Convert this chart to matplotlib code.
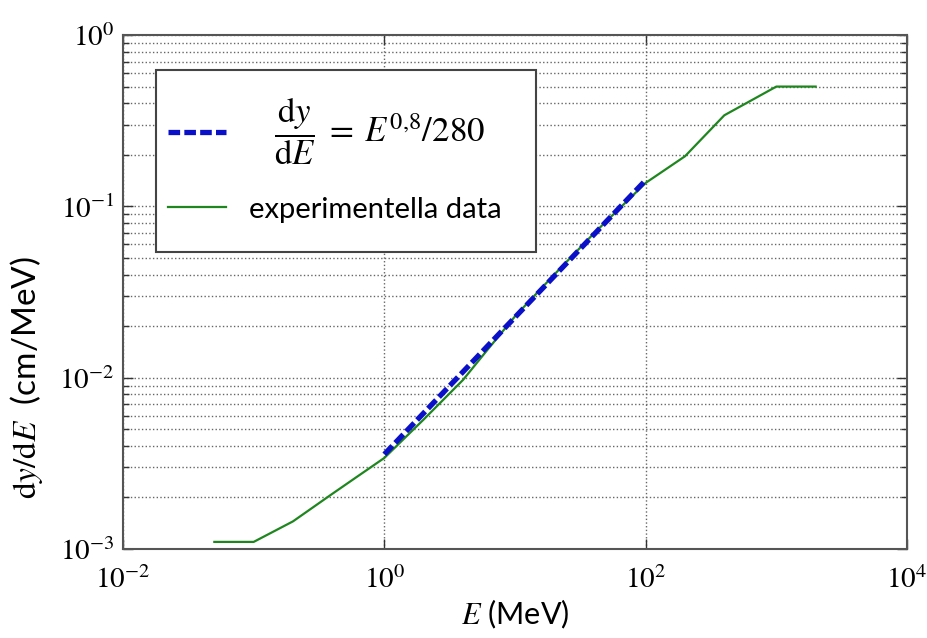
import math
import matplotlib
matplotlib.use("Agg")
import matplotlib.pyplot as plt
from matplotlib.patches import Rectangle
from matplotlib.ticker import FixedLocator, LogLocator, NullFormatter, FuncFormatter

plt.rcParams['mathtext.fontset'] = 'stix'
plt.rcParams['font.family'] = ['Lato', 'DejaVu Sans']

energy_mev = [0.05, 0.1, 0.2, 0.4, 0.6, 1, 2, 4, 6, 10, 20, 40, 60, 100, 200, 400, 1000, 2000]
dy_de = [1.1e-3, 1.1e-3, 1.45e-3, 2.1e-3, 2.6e-3, 3.4e-3, 5.7e-3, 9.7e-3, 0.0142, 0.0228,
         0.040, 0.0693, 0.0937, 0.137, 0.196, 0.34, 0.5, 0.5]

# fitted power law, endpoints
fit_energy = [1, 100]
fit_dy_de = [3.57e-3, 0.142]

x_ticks = [1e-2, 1e0, 1e2, 1e4]
y_ticks = [1e-3, 1e-2, 1e-1, 1e0]

fig = plt.figure(figsize=(9.28, 6.38), dpi=100)
ax = fig.add_axes([123/928, 1 - 549/638, 784/928, 514/638])

ax.plot(fit_energy, fit_dy_de, color='#0a10c8', lw=3.8, dashes=(2.2, 0.8),
        label=r'$\ \ \ \dfrac{\mathrm{d}y}{\mathrm{d}E}\;=\;E^{0{,}8}/280$', zorder=3)
ax.plot(energy_mev, dy_de, color='#1f861f', lw=1.6, label='experimentella data', zorder=2)

ax.set_xscale('log')
ax.set_yscale('log')
ax.set_xlim(1e-2, 1e4)
ax.set_ylim(1e-3, 1e0)

ax.xaxis.set_major_locator(FixedLocator(x_ticks))
ax.xaxis.set_minor_locator(FixedLocator([]))
ax.yaxis.set_major_locator(FixedLocator(y_ticks))
ax.yaxis.set_minor_locator(LogLocator(base=10, subs=range(2, 10), numticks=20))
ax.yaxis.set_minor_formatter(NullFormatter())
fmt = FuncFormatter(lambda v, p: r'$10^{%d}$' % round(math.log10(v)))
ax.xaxis.set_major_formatter(fmt)
ax.yaxis.set_major_formatter(fmt)

ax.tick_params(which='both', direction='in', top=True, right=True, labelsize=21, colors='#333333',
               labelcolor='black')
ax.tick_params(which='major', length=7, width=1)
ax.tick_params(which='minor', length=4, width=1)
ax.tick_params(axis='x', pad=12)
ax.tick_params(axis='y', pad=6)

ax.grid(True, which='major', axis='x', linestyle=':', color='#666666', lw=1)
ax.grid(True, which='both', axis='y', linestyle=':', color='#666666', lw=1)

for s in ax.spines.values():
    s.set_color('#555555')
    s.set_linewidth(1.5)

ax.set_xlabel(r'$E$ (MeV)', fontsize=22, labelpad=3)
ax.set_ylabel(r'$\mathrm{d}y/\mathrm{d}E$  (cm/MeV)', fontsize=24)
ax.yaxis.set_label_coords(-0.10, 0.333)

# legend box drawn separately so padding can differ per side
ax.add_patch(Rectangle((33/784, 297/514), 380/784, 182/514, transform=ax.transAxes,
                       facecolor='white', edgecolor='#444444', lw=1.5, zorder=4))
leg = ax.legend(loc='upper left', bbox_to_anchor=(33/784, 0.905), borderaxespad=0,
                frameon=False, fontsize=21, handlelength=2.0, handletextpad=0.8,
                labelspacing=1.0, borderpad=0.4)
leg.get_texts()[0].set_fontsize(25)
leg.set_zorder(5)

fig.savefig('out.png', dpi=100)
